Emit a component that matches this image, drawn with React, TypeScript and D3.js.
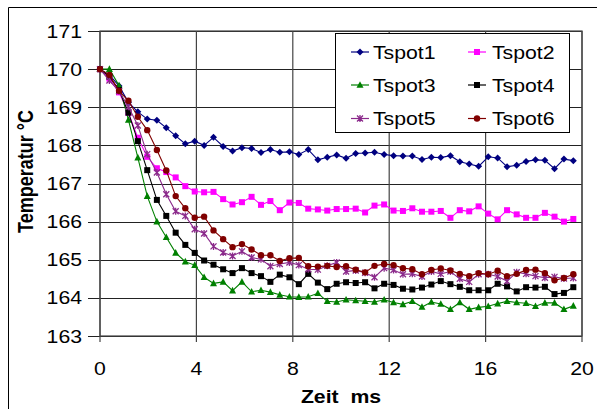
import React from 'react';
import * as d3 from 'd3';

// Zeit in ms
const time = [0, 0.39, 0.79, 1.18, 1.57, 1.96, 2.36, 2.75, 3.14, 3.54, 3.93, 4.32, 4.71, 5.11, 5.5, 5.89, 6.29, 6.68, 7.07, 7.46,
  7.86, 8.25, 8.64, 9.04, 9.43, 9.82, 10.21, 10.61, 11.0, 11.39, 11.79, 12.18, 12.57, 12.96, 13.36, 13.75, 14.14, 14.54, 14.93,
  15.32, 15.71, 16.11, 16.5, 16.89, 17.29, 17.68, 18.07, 18.46, 18.86, 19.25, 19.64];

const tspot1 = [170.0, 169.85, 169.56, 169.13, 168.88, 168.69, 168.66, 168.46, 168.25, 168.04, 168.11, 168.0, 168.21, 167.97,
  167.85, 167.94, 167.92, 167.81, 167.89, 167.82, 167.83, 167.76, 167.89, 167.62, 167.69, 167.75, 167.66, 167.79, 167.8, 167.82,
  167.76, 167.73, 167.72, 167.72, 167.63, 167.69, 167.68, 167.73, 167.57, 167.51, 167.45, 167.7, 167.67, 167.44, 167.48, 167.58,
  167.62, 167.61, 167.39, 167.64, 167.6];
const tspot2 = [170.0, 169.75, 169.39, 168.85, 168.2, 167.7, 167.4, 167.3, 167.16, 166.93, 166.79, 166.77, 166.78, 166.59, 166.45,
  166.51, 166.65, 166.44, 166.54, 166.3, 166.5, 166.49, 166.34, 166.32, 166.29, 166.33, 166.33, 166.34, 166.24, 166.42, 166.45,
  166.29, 166.28, 166.35, 166.26, 166.26, 166.28, 166.1, 166.3, 166.27, 166.4, 166.21, 166.06, 166.3, 166.19, 166.1, 166.1, 166.23,
  166.13, 166.0, 166.07];
const tspot3 = [170.0, 170.0, 169.57, 168.67, 167.68, 166.67, 166.0, 165.59, 165.18, 164.95, 164.86, 164.54, 164.38, 164.42,
  164.19, 164.42, 164.16, 164.2, 164.15, 164.08, 164.03, 164.02, 164.03, 164.12, 163.91, 163.89, 163.95, 163.93, 163.91, 163.89,
  163.95, 163.88, 163.83, 163.91, 163.76, 163.89, 163.84, 163.7, 163.88, 163.7, 163.75, 163.78, 163.85, 163.91, 163.88, 163.86,
  163.78, 163.87, 163.87, 163.7, 163.79];
const tspot4 = [170.0, 169.8, 169.45, 168.86, 168.11, 167.35, 166.57, 166.15, 165.71, 165.39, 165.18, 164.98, 164.87, 164.75,
  164.65, 164.78, 164.65, 164.57, 164.42, 164.61, 164.54, 164.36, 164.63, 164.4, 164.23, 164.37, 164.41, 164.39, 164.41, 164.25,
  164.37, 164.34, 164.24, 164.22, 164.27, 164.35, 164.44, 164.36, 164.29, 164.2, 164.2, 164.2, 164.37, 164.3, 164.17, 164.28,
  164.27, 164.29, 164.1, 164.13, 164.28];
const tspot5 = [170.0, 169.7, 169.42, 169.01, 168.52, 167.77, 167.29, 166.72, 166.27, 166.15, 165.8, 165.69, 165.35, 165.19,
  165.1, 165.22, 165.06, 165.01, 164.83, 164.89, 164.93, 164.86, 164.75, 164.74, 164.84, 164.93, 164.69, 164.72, 164.66, 164.54,
  164.78, 164.73, 164.62, 164.63, 164.56, 164.69, 164.63, 164.69, 164.5, 164.42, 164.62, 164.62, 164.56, 164.44, 164.67, 164.63,
  164.57, 164.53, 164.55, 164.51, 164.52];
const tspot6 = [170.0, 169.85, 169.43, 169.17, 168.75, 168.4, 167.88, 167.34, 166.67, 166.35, 166.1, 166.13, 165.77, 165.54,
  165.33, 165.41, 165.27, 165.12, 165.12, 164.97, 165.04, 165.05, 164.83, 164.82, 164.84, 164.81, 164.83, 164.74, 164.67, 164.84,
  164.89, 164.86, 164.78, 164.75, 164.62, 164.73, 164.77, 164.72, 164.63, 164.57, 164.65, 164.62, 164.71, 164.57, 164.63, 164.73,
  164.74, 164.65, 164.46, 164.52, 164.62];

const names = ['Tspot1', 'Tspot2', 'Tspot3', 'Tspot4', 'Tspot5', 'Tspot6'];
const colors = ['#000080', '#ff00ff', '#008000', '#000000', '#8b2a8b', '#800000'];
const shapes = ['diamond', 'square', 'triangle', 'square', 'star', 'circle'];
const seriesValues = [tspot1, tspot2, tspot3, tspot4, tspot5, tspot6];

const xTicks = [0, 4, 8, 12, 16, 20];
const yTicks = [163, 164, 165, 166, 167, 168, 169, 170, 171];

const W = 597;
const H = 409;
const plot = { left: 100, right: 582, top: 31, bottom: 336 };
const SX = 1.18; // text looks stretched sideways
const font = "'Liberation Sans', Arial, sans-serif";

const Marker = ({ shape, color, x, y }) => {
  if (shape === 'diamond') {
    return <path d={`M${x},${y - 3.5}L${x + 3.5},${y}L${x},${y + 3.5}L${x - 3.5},${y}Z`} fill={color} />;
  }
  if (shape === 'square') {
    return <rect x={x - 3} y={y - 3} width={6} height={6} fill={color} />;
  }
  if (shape === 'triangle') {
    return <path d={`M${x},${y - 3.8}L${x + 3.5},${y + 2.8}L${x - 3.5},${y + 2.8}Z`} fill={color} />;
  }
  if (shape === 'circle') {
    return <circle cx={x} cy={y} r={3.2} fill={color} />;
  }
  // star
  return (
    <path
      d={`M${x - 3},${y - 3}L${x + 3},${y + 3}M${x - 3},${y + 3}L${x + 3},${y - 3}M${x},${y - 3.5}V${y + 3.5}`}
      stroke={color}
      strokeWidth={1.3}
      fill="none"
    />
  );
};

const Txt = ({ x, y, anchor = 'start', size = 18, weight = 'normal', children }) => (
  <text
    transform={`translate(${x},${y}) scale(${SX},1)`}
    textAnchor={anchor}
    fontSize={size}
    fontWeight={weight}
    fontFamily={font}
    fill="#000"
  >
    {children}
  </text>
);

export default function App() {
  const x = d3.scaleLinear().domain([0, 20]).range([plot.left, plot.right]);
  const y = d3.scaleLinear().domain([163, 171]).range([plot.bottom, plot.top]);

  const line = d3
    .line<number>()
    .x((_, i) => x(time[i]))
    .y((d) => y(d));

  const legendRows = [52, 85, 118.5];

  return (
    <div style={{ position: 'absolute', left: 0, top: 0 }}>
      <svg width={W} height={H} style={{ display: 'block', background: '#fff' }}>
        {/* outer frame */}
        <path d={`M8.5,${H}V7.5H${W}`} stroke="#000" fill="none" />

        {/* gridlines */}
        {yTicks.map((t) => (
          <line key={'gy' + t} x1={88} x2={plot.right} y1={Math.round(y(t)) + 0.5} y2={Math.round(y(t)) + 0.5}
            stroke="#222" strokeWidth={1} />
        ))}
        {xTicks.map((t) => (
          <line key={'gx' + t} x1={x(t)} x2={x(t)} y1={plot.top} y2={plot.bottom + 6} stroke="#444" strokeWidth={1.2} />
        ))}
        <rect x={plot.left} y={plot.top} width={plot.right - plot.left} height={plot.bottom - plot.top}
          fill="none" stroke="#444" strokeWidth={1.2} />

        {/* series */}
        {seriesValues.map((vals, s) => (
          <g key={names[s]}>
            <path d={line(vals) || ''} fill="none" stroke={colors[s]} strokeWidth={1.1} />
            {vals.map((v, i) => (
              <Marker key={i} shape={shapes[s]} color={colors[s]} x={x(time[i])} y={y(v)} />
            ))}
          </g>
        ))}

        {/* tick labels */}
        {yTicks.map((t) => (
          <Txt key={'ly' + t} x={82} y={y(t) + 6.5} anchor="end">{t}</Txt>
        ))}
        {xTicks.map((t) => (
          <Txt key={'lx' + t} x={x(t)} y={375} anchor="middle">{t}</Txt>
        ))}

        {/* axis titles */}
        <Txt x={341} y={403} anchor="middle" weight="bold">{'Zeit\u00a0\u00a0ms'}</Txt>
        <text
          transform="translate(33,171.5) rotate(-90) scale(1,1.18)"
          textAnchor="middle"
          fontSize={18}
          fontWeight="bold"
          fontFamily={font}
        >
          Temperatur °C
        </text>

        {/* legend */}
        <rect x={335.5} y={33.5} width={234} height={99} fill="#fff" stroke="#000" strokeWidth={1} />
        {names.map((n, s) => {
          const col = s % 2;
          const row = Math.floor(s / 2);
          const lx = col === 0 ? 351 : 468;
          const tx = col === 0 ? 373 : 492;
          const ly = legendRows[row];
          return (
            <g key={'lg' + n}>
              <line x1={lx} x2={lx + 18} y1={ly} y2={ly} stroke={colors[s]} strokeWidth={1.2} />
              <Marker shape={shapes[s]} color={colors[s]} x={lx + 9} y={ly} />
              <Txt x={tx} y={ly + 6.5}>{n}</Txt>
            </g>
          );
        })}
      </svg>
    </div>
  );
}
